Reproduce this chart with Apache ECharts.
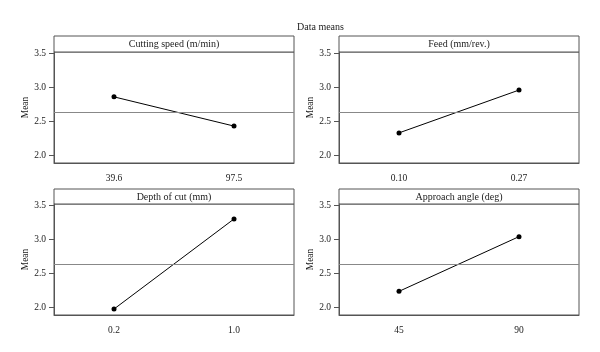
<!DOCTYPE html>
<html>
<head>
<meta charset="utf-8">
<script src="https://cdn.jsdelivr.net/npm/echarts@6/dist/echarts.min.js"></script>
<style>
    html, body { margin: 0; padding: 0; background: #fff; }
    #chart { width: 600px; height: 352px; }
</style>
</head>
<body>
<div id="chart"></div>
<script>
    // factor names and level means
    const factorNames = ['Cutting speed (m/min)', 'Feed (mm/rev.)', 'Depth of cut (mm)', 'Approach angle (deg)']
    const speedLevels = ['39.6', '97.5']
    const speedMeans = [2.86, 2.43]
    const feedLevels = ['0.10', '0.27']
    const feedMeans = [2.33, 2.96]
    const depthLevels = ['0.2', '1.0']
    const depthMeans = [1.975, 3.30]
    const angleLevels = ['45', '90']
    const angleMeans = [2.235, 3.04]
    const grandMean = 2.635
    const yTicks = [2.0, 2.5, 3.0, 3.5]

    const levels = [speedLevels, feedLevels, depthLevels, angleLevels]
    const means = [speedMeans, feedMeans, depthMeans, angleMeans]

    const font = 'Liberation Serif'
    const textColor = '#222'
    const boxColor = '#555'

    // panel layout (px)
    const lefts = [54, 339, 54, 339]
    const headTops = [36, 36, 189, 189]
    const headHeights = [16, 16, 15, 15]
    const panelWidth = 240
    const plotHeight = 111

    const chart = echarts.init(document.getElementById('chart'))

    const grids = [], xAxes = [], yAxes = [], series = [], graphics = []
    for (let i = 0; i < 4; i++) {
        const top = headTops[i] + headHeights[i]
        grids.push({
            left: lefts[i], top: top, width: panelWidth, height: plotHeight,
            show: true, borderColor: boxColor, borderWidth: 1, backgroundColor: '#fff'
        })
        xAxes.push({
            type: 'category', gridIndex: i, data: levels[i], boundaryGap: true,
            axisLine: { lineStyle: { color: boxColor } },
            axisTick: { alignWithLabel: true, length: 4, lineStyle: { color: boxColor } },
            axisLabel: { color: textColor, fontFamily: font, fontSize: 9.5, margin: 10 },
            splitLine: { show: false }
        })
        yAxes.push({
            type: 'value', gridIndex: i, min: 1.887, max: 3.52,
            name: 'Mean', nameLocation: 'middle', nameGap: 24,
            nameTextStyle: { color: textColor, fontFamily: font, fontSize: 9.5 },
            axisLine: { show: true, lineStyle: { color: boxColor } },
            axisTick: { show: true, length: 5, customValues: yTicks, lineStyle: { color: boxColor } },
            axisLabel: {
                color: textColor, fontFamily: font, fontSize: 9.5, margin: 8,
                customValues: yTicks,
                formatter: v => v.toFixed(1)
            },
            splitLine: { show: false }
        })
        series.push({
            type: 'line', xAxisIndex: i, yAxisIndex: i, data: means[i],
            symbol: 'circle', symbolSize: 5,
            itemStyle: { color: '#000' },
            lineStyle: { color: '#000', width: 1 },
            silent: true,
            markLine: {
                silent: true, symbol: 'none', label: { show: false },
                lineStyle: { color: '#888', width: 1, type: 'solid' },
                data: [{ yAxis: grandMean }]
            }
        })
        graphics.push({
            type: 'rect',
            shape: { x: lefts[i], y: headTops[i], width: panelWidth, height: headHeights[i] },
            style: { fill: '#fff', stroke: boxColor, lineWidth: 1 }
        })
        graphics.push({
            type: 'text',
            x: lefts[i] + panelWidth / 2, y: headTops[i] + headHeights[i] / 2 + 0.5,
            style: {
                text: factorNames[i], fill: textColor, font: '10px "' + font + '"',
                align: 'center', verticalAlign: 'middle'
            }
        })
    }

    chart.setOption({
        animation: false,
        title: {
            text: 'Data means', left: 292, top: 17,
            textStyle: { color: textColor, fontFamily: font, fontSize: 10, fontWeight: 'normal' }
        },
        grid: grids,
        xAxis: xAxes,
        yAxis: yAxes,
        series: series,
        graphic: graphics
    })
</script>
</body>
</html>
